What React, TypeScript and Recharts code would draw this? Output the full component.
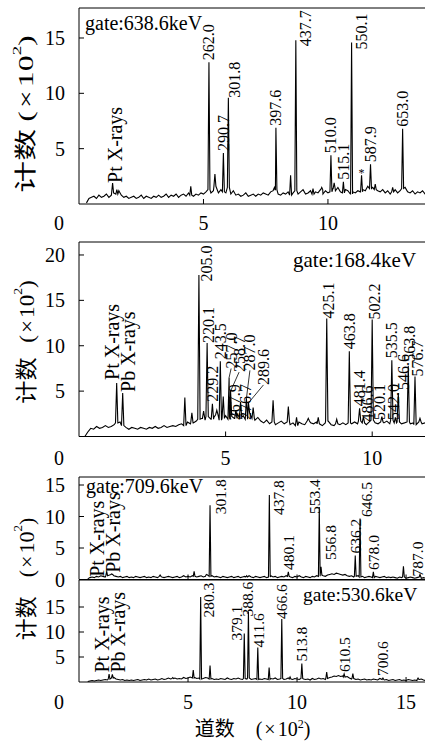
import React from "react";
import { ComposedChart, Line, Scatter, XAxis, YAxis, ReferenceLine } from "recharts";

// channel axis is in units of 100 channels, counts in units of 100
const STEP = 0.1;
const HALF_WIDTH = 0.04;
const SERIF = "'Liberation Serif', 'Times New Roman', 'Noto Sans CJK SC', serif";

type Peak = [number, number, string];
type Place = { dx?: number; dy?: number; lead?: boolean };

// ---- gate 638.6 keV ----
const BG_638_START = 0.3;
const BG_638 = [
	0.1, 0.5, 0.6, 0.7, 0.5, 0.8, 0.6, 0.7, 0.9, 0.6,
	0.8, 1.0, 0.9, 1.2, 0.8, 0.6, 0.7, 0.5, 0.6, 0.7,
	0.5, 0.6, 0.8, 0.5, 0.7, 0.6, 0.5, 0.7, 0.6, 0.8,
	0.6, 0.7, 0.9, 0.6, 0.8, 0.7, 0.9, 0.6, 0.8, 0.9,
	0.7, 1.0, 0.8, 0.7, 0.9, 0.8, 1.0, 0.9, 1.1, 1.3,
	1.0, 1.2, 1.6, 1.0, 1.3, 1.1, 1.0, 1.5, 0.9, 1.2,
	0.8, 0.9, 0.7, 0.8, 1.0, 0.7, 0.8, 0.9, 0.7, 0.9,
	0.8, 1.0, 0.9, 0.8, 1.1, 1.2, 1.3, 0.9, 0.8, 1.0,
	0.9, 1.1, 0.8, 1.0, 1.2, 0.9, 1.1, 1.3, 0.9, 1.0,
	1.2, 0.9, 1.1, 1.0, 1.3, 0.9, 1.2, 1.0, 1.1, 1.4,
	1.2, 1.5, 1.1, 1.0, 1.3, 1.2, 0.9, 1.1, 1.0, 1.2,
	1.1, 1.3, 1.2, 1.6, 1.4, 1.5, 1.3, 1.2, 1.1, 1.3,
	1.0, 1.2, 0.9, 1.1, 1.3, 1.0, 1.2, 1.4, 1.5, 1.1,
	1.0, 1.2, 0.9, 1.1, 1.0, 1.2, 0.9, 1.1, 1.0,
];
const PEAKS_638: Peak[] = [
	[1.35, 1.9, "Pt X-rays"], [1.52, 1.3, ""], [4.49, 1.6, ""], [5.22, 12.8, "262.0"],
	[5.46, 2.7, ""], [5.8, 4.6, "290.7"], [6.0, 9.6, "301.8"], [7.85, 1.5, ""],
	[7.91, 6.9, "397.6"], [8.5, 2.6, ""], [8.71, 14.8, "437.7"], [9.4, 1.4, ""],
	[9.75, 1.5, ""], [10.12, 4.4, "510.0"], [10.25, 1.9, ""], [10.62, 2.0, "515.1"],
	[10.95, 14.6, "550.1"], [11.35, 2.6, "*"], [11.71, 3.6, "587.9"], [11.9, 1.8, ""],
	[12.6, 1.5, ""], [13.0, 6.8, "653.0"],
];

// ---- gate 168.4 keV ----
const BG_168_START = 0.2;
const BG_168 = [
	0.0, 0.5, 0.9, 0.8, 1.1, 0.9, 1.0, 1.2, 1.0, 1.1,
	1.3, 1.5, 1.6, 1.2, 1.0, 0.8, 1.0, 0.9, 0.8, 1.0,
	0.9, 0.8, 1.0, 0.9, 1.1, 0.9, 1.0, 1.2, 1.0, 1.1,
	1.2, 1.1, 1.3, 1.4, 1.2, 1.6, 1.4, 1.5, 1.7, 1.9,
	2.0, 1.8, 2.2, 1.9, 2.1, 2.4, 1.8, 2.0, 2.3, 1.9,
	2.2, 2.0, 2.5, 2.1, 2.3, 1.9, 2.6, 2.0, 1.8, 2.1,
	1.7, 1.5, 1.8, 1.4, 1.6, 1.3, 1.5, 1.7, 1.4, 1.6,
	1.3, 1.5, 1.2, 1.6, 1.4, 1.3, 1.7, 1.5, 1.4, 1.6,
	1.4, 1.2, 1.5, 1.7, 1.3, 1.2, 1.4, 1.3, 1.5, 1.3,
	1.5, 1.4, 1.6, 1.4, 1.7, 1.5, 1.3, 1.6, 1.8, 1.5,
	1.4, 1.6, 1.5, 1.7, 1.4, 1.8, 1.5, 1.6, 1.4, 1.5,
	1.6, 1.4, 1.5, 1.3, 1.6, 1.4, 1.5, 1.3, 1.5,
];
const PEAKS_168: Peak[] = [
	[1.285, 5.9, "Pt X-rays"], [1.49, 4.8, "Pb X-rays"], [3.61, 4.3, ""], [3.85, 2.6, ""],
	[4.09, 17.8, "205.0"], [4.25, 2.8, ""], [4.37, 10.3, "220.1"], [4.55, 3.6, "229.2"],
	[4.7, 2.9, ""], [4.82, 8.3, "243.5"], [4.92, 4.4, ""], [5.12, 6.5, "257.0"],
	[5.17, 5.0, "258.7"], [5.35, 2.9, "267.9"], [5.51, 3.8, "276.7"], [5.71, 4.2, "287.0"],
	[5.78, 3.7, "289.6"], [5.94, 3.2, ""], [6.62, 4.0, ""], [7.14, 3.3, ""],
	[7.42, 2.1, ""], [7.82, 2.0, ""], [8.16, 2.1, ""], [8.45, 13.0, "425.1"],
	[8.79, 1.9, ""], [9.22, 9.4, "463.8"], [9.57, 3.1, "481.4"], [9.7, 2.2, "486.6"],
	[10.0, 12.9, "502.2"], [10.33, 2.2, "520.1"], [10.67, 8.4, "535.5"], [10.79, 2.1, "542.0"],
	[10.89, 4.8, "546.6"], [11.23, 7.8, "563.8"], [11.46, 6.6, "576.7"], [11.63, 2.0, ""],
];

// ---- gate 709.6 keV ----
const BG_709_START = 0.4;
const BG_709 = [
	0.1, 0.3, 0.4, 0.3, 0.5, 0.4, 0.6, 0.5, 0.4, 0.6,
	0.7, 0.8, 0.6, 0.5, 0.4, 0.5, 0.3, 0.4, 0.5, 0.3,
	0.4, 0.3, 0.5, 0.4, 0.3, 0.4, 0.5, 0.3, 0.4, 0.3,
	0.5, 0.4, 0.3, 0.5, 0.4, 0.3, 0.4, 0.5, 0.4, 0.3,
	0.4, 0.5, 0.3, 0.4, 0.6, 0.4, 0.5, 0.4, 0.6, 0.5,
	0.4, 0.5, 0.6, 0.4, 0.5, 0.7, 0.5, 0.6, 0.4, 0.5,
	0.4, 0.3, 0.5, 0.4, 0.3, 0.4, 0.5, 0.3, 0.4, 0.5,
	0.3, 0.4, 0.5, 0.4, 0.6, 0.4, 0.3, 0.5, 0.4, 0.3,
	0.4, 0.5, 0.3, 0.4, 0.6, 0.4, 0.5, 0.3, 0.4, 0.5,
	0.4, 0.6, 0.5, 0.4, 0.3, 0.5, 0.4, 0.6, 0.4, 0.3,
	0.5, 0.4, 0.3, 0.5, 0.4, 0.6, 0.5, 0.7, 0.6, 0.5,
	0.7, 0.8, 0.9, 0.8, 1.0, 0.9, 0.8, 0.7, 0.8, 0.6,
	0.5, 0.6, 0.4, 0.5, 0.6, 0.4, 0.5, 0.3, 0.4, 0.5,
	0.4, 0.3, 0.5, 0.4, 0.3, 0.4, 0.5, 0.3, 0.4, 0.3,
	0.4, 0.3, 0.2, 0.4, 0.3, 0.4, 0.2, 0.3, 0.4, 0.3,
	0.2, 0.3, 0.4, 0.2, 0.3, 0.2, 0.3, 0.2,
];
const PEAKS_709: Peak[] = [
	[1.27, 1.3, "Pt X-rays"], [1.5, 0.9, "Pb X-rays"], [3.72, 0.7, ""], [5.28, 1.3, ""],
	[5.86, 0.8, ""], [6.01, 11.8, "301.8"], [7.69, 0.6, ""], [8.73, 13.4, "437.8"],
	[9.6, 1.2, "480.1"], [11.02, 11.5, "553.4"], [11.1, 2.0, "556.8"], [12.67, 3.8, "636.2"],
	[12.89, 9.7, "646.5"], [13.5, 1.2, "678.0"], [14.88, 2.1, ""], [15.64, 0.8, "787.0"],
];

// ---- gate 530.6 keV ----
const BG_530_START = 0.4;
const BG_530 = [
	0.1, 0.2, 0.3, 0.2, 0.3, 0.4, 0.3, 0.4, 0.5, 0.4,
	0.6, 0.8, 0.9, 0.6, 0.5, 0.4, 0.5, 0.3, 0.4, 0.3,
	0.4, 0.3, 0.4, 0.5, 0.3, 0.4, 0.5, 0.4, 0.6, 0.4,
	0.5, 0.6, 0.4, 0.5, 0.7, 0.5, 0.6, 0.8, 0.6, 0.7,
	0.8, 0.6, 0.7, 0.6, 0.9, 0.7, 0.8, 1.0, 0.8, 0.9,
	0.7, 0.8, 0.6, 0.7, 0.9, 0.8, 0.6, 0.7, 0.5, 0.6,
	0.5, 0.7, 0.6, 0.5, 0.8, 0.6, 0.5, 0.7, 0.6, 0.8,
	0.6, 0.5, 0.7, 0.6, 0.8, 0.5, 0.6, 0.7, 0.5, 0.6,
	0.5, 0.7, 0.6, 0.5, 0.7, 0.6, 0.8, 0.5, 0.6, 0.7,
	0.5, 0.6, 0.8, 0.6, 0.5, 0.7, 0.6, 0.5, 0.7, 0.6,
	0.5, 0.6, 0.4, 0.7, 0.5, 0.6, 0.8, 0.6, 0.7, 0.5,
	0.7, 0.9, 1.0, 1.2, 1.1, 1.3, 1.1, 1.2, 1.0, 1.1,
	0.8, 0.6, 0.7, 0.5, 0.6, 0.4, 0.5, 0.6, 0.4, 0.5,
	0.4, 0.6, 0.5, 0.4, 0.7, 0.5, 0.4, 0.5, 0.3, 0.4,
	0.5, 0.3, 0.4, 0.5, 0.3, 0.4, 0.3, 0.5, 0.4, 0.3,
	0.4, 0.3, 0.5, 0.6, 0.4, 0.3, 0.4, 0.3,
];
const PEAKS_530: Peak[] = [
	[1.38, 1.6, "Pt X-rays"], [1.53, 1.5, "Pb X-rays"], [4.3, 0.9, ""], [5.24, 2.4, ""],
	[5.58, 17.0, "280.3"], [6.01, 3.3, ""], [7.58, 9.7, "379.1"], [7.77, 14.1, "388.6"],
	[8.2, 6.9, "411.6"], [8.72, 2.9, ""], [9.3, 12.6, "466.6"], [9.68, 1.0, ""],
	[10.22, 3.7, "513.8"], [11.36, 2.0, ""], [12.16, 1.6, "610.5"], [12.56, 1.7, ""],
	[13.94, 0.8, "700.6"], [15.55, 0.8, ""],
];

// label placement: pixel offsets of the label foot from the peak top
const PLACE_638: Record<string, Place> = {
	"Pt X-rays": { dx: 2, dy: 0 },
	"301.8": { dx: 6, dy: 0 },
	"437.7": { dx: 9.5, dy: 6 },
	"550.1": { dx: 9.5, dy: 7 },
};
const PLACE_168: Record<string, Place> = {
	"Pt X-rays": { dx: -5, dy: -3 },
	"Pb X-rays": { dx: 5, dy: -1 },
	"205.0": { dx: 7.5, dy: 6.5 },
	"220.1": { dx: 1, dy: 0 },
	"257.0": { dx: 2, dy: -9, lead: true },
	"258.7": { dx: 8.5, dy: -19, lead: true },
	"267.9": { dx: -1, dy: 10 },
	"276.7": { dx: 4.5, dy: 18 },
	"287.0": { dx: 3.5, dy: -28, lead: true },
	"289.6": { dx: 15, dy: -18, lead: true },
	"425.1": { dx: 1.5, dy: 0 },
	"486.6": { dx: 4, dy: 5 },
	"502.2": { dx: 2.5, dy: 0 },
	"520.1": { dx: -2, dy: 3.5 },
	"542.0": { dx: -1.5, dy: 2.5 },
	"546.6": { dx: 5, dy: -3 },
	"563.8": { dx: 1.5, dy: -4 },
	"576.7": { dx: 3, dy: 0 },
};
const PLACE_709: Record<string, Place> = {
	"Pt X-rays": { dx: -9.5, dy: 5.5 },
	"Pb X-rays": { dx: 1.5, dy: -1 },
	"301.8": { dx: 10.5, dy: 9 },
	"437.8": { dx: 9.5, dy: 20 },
	"553.4": { dx: -5, dy: 7 },
	"556.8": { dx: 9, dy: -7 },
	"646.5": { dx: 6, dy: -1.5 },
	"787.0": { dx: -2.5, dy: 2 },
};
const PLACE_530: Record<string, Place> = {
	"Pt X-rays": { dx: -7.5, dy: -1.5 },
	"Pb X-rays": { dx: 6, dy: -2 },
	"280.3": { dx: 7.5, dy: 20.5 },
	"379.1": { dx: -8, dy: 7 },
	"388.6": { dx: -0.5, dy: 5 },
	"411.6": { dx: 0.5, dy: 0 },
	"466.6": { dx: 0, dy: 0 },
};

function buildSpectrum(start: number, bg: number[], peaks: Peak[]) {
	const pts = bg
		.map((y, i) => ({ x: Math.round((start + i * STEP) * 1000) / 1000, y }))
		.filter((p) => !peaks.some(([c]) => Math.abs(p.x - c) <= HALF_WIDTH + 0.005));
	for (const [c, h] of peaks) {
		const i = Math.min(bg.length - 1, Math.max(0, Math.round((c - start) / STEP)));
		pts.push({ x: c - HALF_WIDTH, y: bg[i] }, { x: c, y: h }, { x: c + HALF_WIDTH, y: bg[i] });
	}
	return pts.sort((a, b) => a.x - b.x);
}

function PeakLabel(props: any) {
	const { cx, cy, payload, place, size } = props;
	const label: string = payload.label;
	if (label === "*") {
		return (
			<text x={cx} y={cy + 2} textAnchor="middle" fontSize={12} fontFamily={SERIF}>
				*
			</text>
		);
	}
	const p: Place = place[label] || {};
	const ax = cx + (p.dx ?? 0);
	const ay = cy + (p.dy ?? -2);
	const fs = label.includes("X") ? 20 : size;
	return (
		<g>
			{p.lead && <line x1={cx} y1={cy} x2={ax} y2={ay} stroke="#000" strokeWidth={0.8} />}
			<text
				x={ax}
				y={ay}
				transform={`rotate(-90 ${ax} ${ay})`}
				dominantBaseline="central"
				fontSize={fs}
				fontFamily={SERIF}
				fill="#000"
			>
				{label}
			</text>
		</g>
	);
}

function XTick(props: any) {
	const { x, y, payload, showLabels, labelDy } = props;
	const v = payload.value;
	if (v === 0) {
		return showLabels ? (
			<text x={x - 15} y={y + labelDy} textAnchor="end" fontSize={20} fontFamily={SERIF}>
				0
			</text>
		) : (
			<g />
		);
	}
	return (
		<g>
			<line x1={x} y1={y} x2={x} y2={y - 5} stroke="#000" />
			{showLabels && (
				<text x={x} y={y + labelDy} textAnchor="middle" fontSize={20} fontFamily={SERIF}>
					{v}
				</text>
			)}
		</g>
	);
}

function YTick(props: any) {
	const { x, y, payload } = props;
	const v = payload.value;
	return (
		<g>
			{v !== 0 && <line x1={x} y1={y} x2={x + 5} y2={y} stroke="#000" />}
			<text x={x - 14} y={y + 7} textAnchor="end" fontSize={20} fontFamily={SERIF}>
				{v}
			</text>
		</g>
	);
}

const PANELS = [
	{ key: "638", top: 0, mt: 8, plotH: 196, bottomH: 36, xMax: 14.18, yMax: 17.71,
		xTicks: [0, 5, 10], yTicks: [5, 10, 15], showX: true, labelDy: 25.5, size: 16,
		bgStart: BG_638_START, bg: BG_638, peaks: PEAKS_638, place: PLACE_638 },
	{ key: "168", top: 232, mt: 10, plotH: 194.5, bottomH: 36, xMax: 12.04, yMax: 21.43,
		xTicks: [0, 5, 10], yTicks: [5, 10, 15, 20], showX: true, labelDy: 28.5, size: 16,
		bgStart: BG_168_START, bg: BG_168, peaks: PEAKS_168, place: PLACE_168 },
	{ key: "709", top: 467, mt: 10, plotH: 102.5, bottomH: 14, xMax: 16.19, yMax: 16.27,
		xTicks: [0, 5, 10, 15], yTicks: [0, 5, 10, 15], showX: false, labelDy: 0, size: 15.5,
		bgStart: BG_709_START, bg: BG_709, peaks: PEAKS_709, place: PLACE_709 },
	{ key: "530", top: 579.5, mt: 0, plotH: 102, bottomH: 61, xMax: 16.19, yMax: 20.4,
		xTicks: [0, 5, 10, 15], yTicks: [5, 10, 15], showX: true, labelDy: 26.5, size: 15.5,
		bgStart: BG_530_START, bg: BG_530, peaks: PEAKS_530, place: PLACE_530 },
];

function Panel({ cfg }: { cfg: (typeof PANELS)[number] }) {
	const spectrum = buildSpectrum(cfg.bgStart, cfg.bg, cfg.peaks);
	const labels = cfg.peaks.filter((p) => p[2]).map(([x, y, label]) => ({ x, y, label }));
	return (
		<div style={{ position: "absolute", left: 0, top: cfg.top }}>
			<ComposedChart
				width={432}
				height={cfg.mt + cfg.plotH + cfg.bottomH}
				data={spectrum}
				margin={{ top: cfg.mt, right: 0, bottom: 0, left: 0 }}
			>
				<XAxis
					dataKey="x"
					type="number"
					domain={[0, cfg.xMax]}
					allowDataOverflow
					ticks={cfg.xTicks}
					interval={0}
					height={cfg.bottomH}
					tickSize={0}
					tickMargin={0}
					tickLine={false}
					axisLine={{ stroke: "#000" }}
					tick={(p: any) => <XTick {...p} showLabels={cfg.showX} labelDy={cfg.labelDy} />}
				/>
				<YAxis
					dataKey="y"
					type="number"
					domain={[0, cfg.yMax]}
					allowDataOverflow
					ticks={cfg.yTicks}
					interval={0}
					width={79}
					tickSize={0}
					tickMargin={0}
					tickLine={false}
					axisLine={{ stroke: "#000" }}
					tick={(p: any) => <YTick {...p} />}
				/>
				<ReferenceLine y={cfg.yMax} stroke="#000" />
				<Line
					type="linear"
					dataKey="y"
					stroke="#000"
					strokeWidth={1.1}
					dot={false}
					activeDot={false}
					isAnimationActive={false}
				/>
				<Scatter
					data={labels}
					isAnimationActive={false}
					shape={(p: any) => <PeakLabel {...p} place={cfg.place} size={cfg.size} />}
				/>
			</ComposedChart>
		</div>
	);
}

function YTitle({ cx, cy, scale, gap }: { cx: number; cy: number; scale: number; gap: number }) {
	return (
		<text
			transform={`translate(${cx} ${cy}) rotate(-90) scale(${scale} 1)`}
			textAnchor="middle"
			dominantBaseline="central"
			fontSize={22}
			fontFamily={SERIF}
		>
			<tspan>计数</tspan>
			<tspan dx={gap}>(</tspan>
			<tspan dx={2}>×</tspan>
			<tspan dx={2}>10</tspan>
			<tspan dy={-9} fontSize={13}>2</tspan>
			<tspan dy={9}>)</tspan>
		</text>
	);
}

export default function App() {
	return (
		<div
			style={{
				position: "fixed",
				left: 0,
				top: 0,
				width: 425,
				height: 742,
				overflow: "hidden",
				background: "#fff",
			}}
		>
			{PANELS.map((cfg) => (
				<Panel key={cfg.key} cfg={cfg} />
			))}
			<svg
				width={425}
				height={742}
				style={{ position: "absolute", left: 0, top: 0, pointerEvents: "none" }}
			>
				<g fontFamily={SERIF} fill="#000">
					<text x={85} y={30} fontSize={20}>gate:638.6keV</text>
					<text x={293} y={266.5} fontSize={21}>gate:168.4keV</text>
					<text x={86} y={492.5} fontSize={20}>gate:709.6keV</text>
					<text x={303} y={601} fontSize={19.5}>gate:530.6keV</text>
				</g>
				<YTitle cx={25.5} cy={114} scale={1.45} gap={5} />
				<YTitle cx={25.8} cy={342} scale={1.05} gap={14} />
				<YTitle cx={25.5} cy={579} scale={1} gap={19} />
				<text x={252.5} y={736} textAnchor="middle" fontSize={20} fontFamily={SERIF}>
					道数
					<tspan dx={21}>(</tspan>
					<tspan dx={2}>×</tspan>
					<tspan dx={2}>10</tspan>
					<tspan dy={-8} fontSize={12}>2</tspan>
					<tspan dy={8}>)</tspan>
				</text>
			</svg>
		</div>
	);
}
